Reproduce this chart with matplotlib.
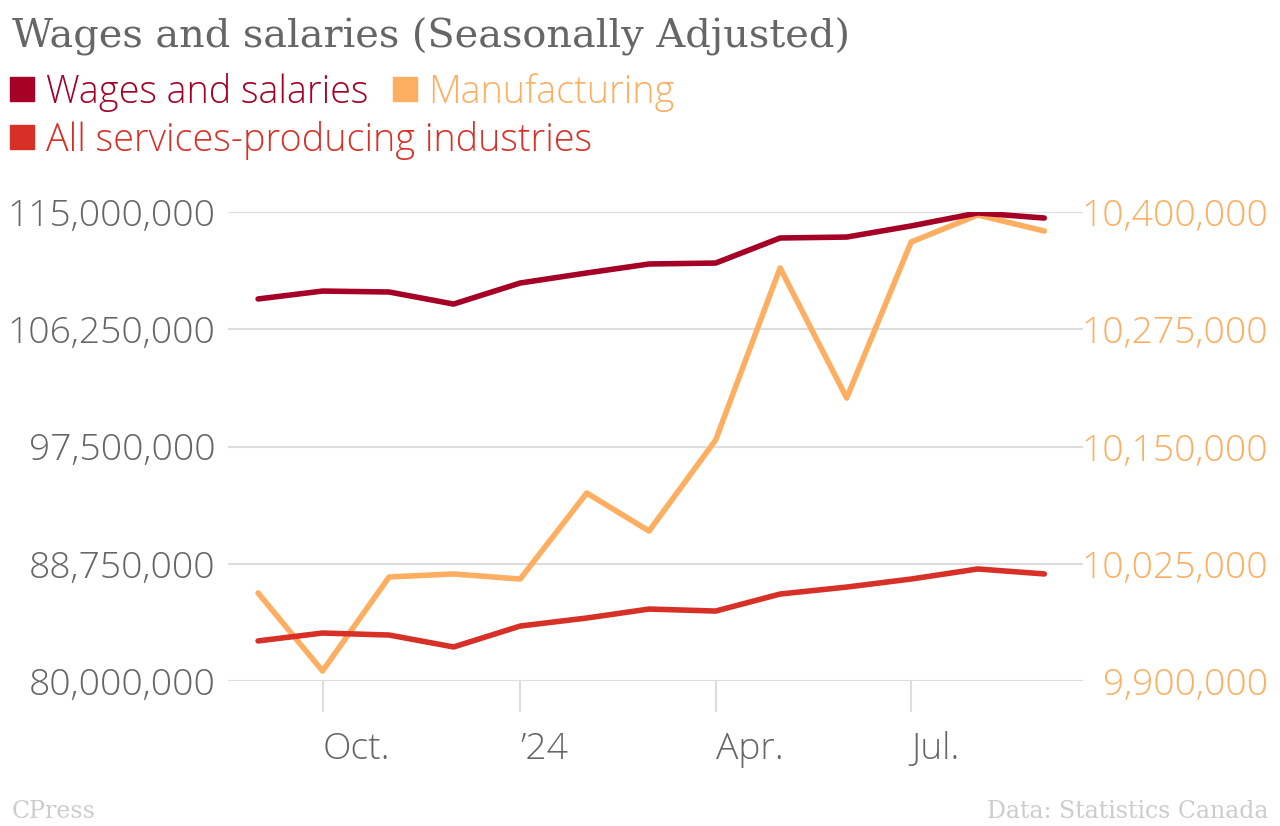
import matplotlib
matplotlib.use("Agg")
import matplotlib.pyplot as plt
import matplotlib.dates as mdates
from matplotlib import font_manager as fm
from matplotlib.lines import Line2D
import numpy as np
import datetime as dt

months = [dt.date(2023, 9, 1), dt.date(2023, 10, 1), dt.date(2023, 11, 1), dt.date(2023, 12, 1),
          dt.date(2024, 1, 1), dt.date(2024, 2, 1), dt.date(2024, 3, 1), dt.date(2024, 4, 1),
          dt.date(2024, 5, 1), dt.date(2024, 6, 1), dt.date(2024, 7, 1), dt.date(2024, 8, 1),
          dt.date(2024, 9, 1)]
wages = [108.51, 109.10, 109.03, 108.13, 109.70, 110.45, 111.12, 111.19,
         113.06, 113.13, 113.96, 114.93, 114.55]            # millions
services = [82.99, 83.58, 83.43, 82.54, 84.10, 84.70, 85.37, 85.22,
            86.49, 87.01, 87.61, 88.36, 87.99]              # millions
manufacturing = [9993.8, 9910.7, 10010.9, 10014.1, 10008.7, 10100.4, 10059.9, 10156.9,
                 10340.3, 10201.7, 10368.0, 10396.8, 10379.7]  # thousands

left_ticks = [80000000, 88750000, 97500000, 106250000, 115000000]
right_ticks = [9900000, 10025000, 10150000, 10275000, 10400000]
x_ticks = [dt.date(2023, 10, 1), dt.date(2024, 1, 1), dt.date(2024, 4, 1), dt.date(2024, 7, 1)]
x_labels = ["Oct.", "\u201924", "Apr.", "Jul."]

c_wages = "#a50026"
c_serv = "#d73027"
c_manu = "#fdae61"
grid_c = "#dddddd"
txt_c = "#666666"


def wnum(w):
    if isinstance(w, str):
        return {'light': 300, 'normal': 400, 'regular': 400}.get(w, 400)
    return w

# look for a light (not condensed) Open Sans file, else use regular
light = [f for f in fm.fontManager.ttflist
         if f.name == 'Open Sans' and f.style == 'normal' and wnum(f.weight) == 300
         and str(f.stretch) in ('normal', '500') and 'ondensed' not in f.fname]
if light:
    def sans(size):
        return fm.FontProperties(fname=light[0].fname, size=size)
else:
    def sans(size):
        return fm.FontProperties(family='Open Sans', stretch='normal', size=size)

fig = plt.figure(figsize=(12.8, 8.26), dpi=100)
ax = fig.add_axes([228/1280, 1-681/826, (1083-228)/1280, (681-212)/826])
ax2 = ax.twinx()
# left-axis lines go on top of the manufacturing line, grid sits under everything
ax.set_zorder(ax2.get_zorder() + 1)
ax.patch.set_visible(False)

x = mdates.date2num(months)
ax.plot(x, np.array(wages)*1e6, color=c_wages, lw=4, solid_capstyle='round', solid_joinstyle='round', zorder=3)
ax.plot(x, np.array(services)*1e6, color=c_serv, lw=4, solid_capstyle='round', solid_joinstyle='round', zorder=3)
ax2.plot(x, np.array(manufacturing)*1e3, color=c_manu, lw=4, solid_capstyle='round', solid_joinstyle='round', zorder=2)

ax.set_ylim(80000000, 115000000)
ax2.set_ylim(9900000, 10400000)
ax.set_xlim(x[0]-14, x[-1]+18)

ax.set_yticks(left_ticks)
ax.set_yticklabels([f"{v:,}" for v in left_ticks])
ax2.set_yticks(right_ticks)
ax2.set_yticklabels([f"{v:,}" for v in right_ticks], ha='right')
ax.set_xticks(mdates.date2num(x_ticks))
ax.set_xticklabels(x_labels, ha='left')

ax2.grid(axis='y', color=grid_c, lw=1.5, zorder=0)
ax2.set_axisbelow(True)
for a in (ax, ax2):
    for s in a.spines.values():
        s.set_visible(False)

ax.tick_params(axis='y', length=0, pad=9, labelcolor=txt_c)
ax2.tick_params(axis='y', length=0, pad=(1268-1083)*0.72, labelcolor=c_manu)
ax.tick_params(axis='x', length=22, width=1.5, color=grid_c, pad=14, labelcolor=txt_c)
for lab in ax.get_yticklabels() + ax2.get_yticklabels() + ax.get_xticklabels():
    lab.set_fontproperties(sans(26.8))

fig.text(12/1280, 1-47/826, "Wages and salaries (Seasonally Adjusted)", family="DejaVu Serif",
         fontsize=28.7, color=txt_c, va='baseline')

h1 = [Line2D([], [], ls='', marker='s', ms=17, color=c_wages),
      Line2D([], [], ls='', marker='s', ms=17, color=c_manu)]
h2 = [Line2D([], [], ls='', marker='s', ms=17, color=c_serv)]
leg1 = fig.legend(h1, ["Wages and salaries", "Manufacturing"], ncol=2, loc='center left',
                  bbox_to_anchor=(10/1280, 1-92/826), frameon=False, handlelength=0.64,
                  handletextpad=0.3, columnspacing=0.65, borderpad=0, borderaxespad=0,
                  prop=sans(27.2))
leg2 = fig.legend(h2, ["All services-producing industries"], loc='center left',
                  bbox_to_anchor=(10/1280, 1-140/826), frameon=False, handlelength=0.64,
                  handletextpad=0.3, borderpad=0, borderaxespad=0,
                  prop=sans(27.2))
for t, c in zip(leg1.get_texts(), [c_wages, c_manu]):
    t.set_color(c)
leg2.get_texts()[0].set_color(c_serv)

fig.text(12/1280, 1-812/826, "CPress", family="DejaVu Serif", fontsize=17, color="#cccccc", va='center')
fig.text(1268/1280, 1-812/826, "Data: Statistics Canada", family="DejaVu Serif", fontsize=17,
         color="#cccccc", va='center', ha='right')

fig.savefig("out.png", dpi=100)
